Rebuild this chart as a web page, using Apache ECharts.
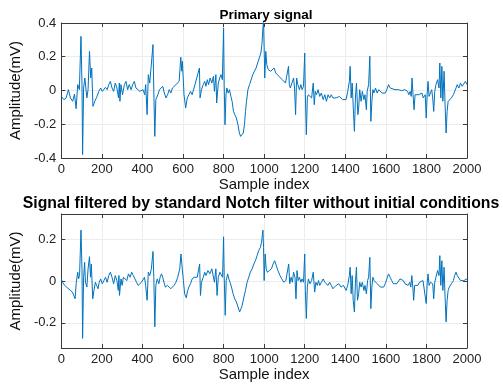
<!DOCTYPE html>
<html>
<head>
<meta charset="utf-8">
<script src="https://cdn.jsdelivr.net/npm/echarts@6/dist/echarts.min.js"></script>
<style>html,body{margin:0;padding:0;background:#fff}#c{width:503px;height:386px}</style>
</head>
<body>
<div id="c"></div>
<script>
// [sample index, amplitude (mV)]
const primarySignal = [
[0,-0.035],[13,-0.054],[24,-0.044],[35,0.005],[45,-0.044],[56,-0.064],[65,-0.021],[73,-0.108],[81,0.035],[89,0.005],
[97,0.321],[102,0.035],[105,-0.38],[110,0.015],[116,0.074],[126,-0.044],[132,0.005],[139,0.232],[145,0.074],[150,0.133],
[156,-0.094],[165,-0.064],[174,-0.041],[185,-0.005],[194,0.015],[202,-0.005],[210,0.005],[218,0.019],[226,0.005],[234,0.035],
[242,0.054],[250,0.015],[258,-0.005],[266,0.044],[274,0.015],[282,-0.044],[286,0.044],[289,-0.064],[294,0.035],[302,-0.025],
[311,0.035],[319,0.054],[327,0.005],[335,0.035],[344,0.005],[352,0.035],[360,0.054],[368,0.015],[376,0.005],[387,-0.005],
[395,-0.015],[403,0.005],[411,-0.025],[416,0.035],[423,-0.143],[429,0.094],[436,0.044],[445,0.054],[452,0.272],[456,-0.005],
[461,-0.272],[466,-0.054],[476,-0.025],[484,0.005],[492,0.015],[500,0.025],[508,-0.015],[516,-0.044],[524,-0.025],[532,0.005],
[540,-0.015],[548,0.015],[556,0.005],[565,0.035],[573,0.025],[581,0.054],[589,0.197],[594,0.114],[597,0.173],[605,-0.025],
[613,-0.104],[621,-0.044],[629,-0.025],[637,-0.005],[645,-0.025],[653,-0.015],[661,0.044],[681,0.133],[684,-0.044],[691,0.005],
[700,0.035],[707,0.054],[713,0.025],[720,0.064],[726,0.035],[734,0.074],[742,0.044],[750,0.084],[755,-0.005],[762,0.094],
[766,-0.074],[774,0.044],[781,0.074],[787,0.094],[794,0.064],[800,0.371],[803,0.035],[807,-0.203],[812,-0.025],[816,0.015],
[823,-0.015],[829,0.005],[836,-0.035],[842,-0.064],[849,-0.124],[855,-0.143],[863,-0.163],[871,-0.203],[878,-0.252],[884,-0.272],
[891,-0.272],[897,-0.252],[903,-0.203],[908,-0.124],[913,-0.064],[920,0.005],[928,0.035],[936,0.064],[944,0.094],[952,0.114],
[960,0.133],[968,0.163],[976,0.193],[984,0.222],[989,0.272],[994,0.371],[997,0.41],[1000,0.252],[1003,0.074],[1008,0.232],
[1013,0.153],[1020,0.124],[1026,0.133],[1032,0.114],[1041,0.124],[1049,0.133],[1057,0.104],[1065,0.094],[1073,0.084],[1081,0.074],
[1089,0.064],[1097,0.054],[1105,0.044],[1113,0.054],[1120,0.143],[1124,0.035],[1129,0.015],[1137,0.005],[1145,0.074],[1150,0.015],
[1155,-0.143],[1160,0.074],[1166,0.035],[1174,0.005],[1181,0.035],[1187,0.005],[1194,0.025],[1200,0.222],[1203,-0.025],[1208,-0.262],
[1213,-0.044],[1218,-0.025],[1226,-0.015],[1234,-0.044],[1242,0.044],[1247,-0.084],[1252,-0.005],[1258,-0.025],[1266,0.005],[1274,-0.035],
[1282,-0.015],[1291,-0.054],[1299,-0.025],[1307,-0.064],[1315,-0.025],[1323,-0.044],[1331,-0.025],[1339,-0.044],[1355,-0.044],[1371,-0.035],
[1387,-0.054],[1404,-0.054],[1412,-0.005],[1420,0.054],[1424,0.143],[1429,-0.044],[1434,0.044],[1441,-0.143],[1445,-0.242],[1450,-0.044],
[1455,0.044],[1462,-0.143],[1466,-0.104],[1471,0.005],[1478,-0.064],[1484,-0.005],[1492,-0.054],[1497,-0.025],[1504,-0.114],[1508,-0.005],
[1515,0.035],[1521,0.203],[1526,-0.183],[1531,-0.064],[1536,0.005],[1541,-0.015],[1549,0.015],[1557,-0.015],[1565,0.005],[1573,-0.005],
[1581,-0.015],[1589,-0.005],[1597,-0.015],[1605,0.005],[1613,0.035],[1621,0.015],[1629,0.015],[1645,0.005],[1662,0.005],[1678,-0.001],
[1694,0.005],[1707,-0.005],[1713,-0.025],[1720,-0.005],[1725,-0.035],[1729,0.074],[1734,-0.025],[1739,-0.114],[1744,-0.025],[1752,-0.035],
[1762,-0.025],[1771,-0.035],[1778,-0.015],[1784,-0.044],[1794,-0.025],[1799,-0.163],[1804,-0.015],[1808,0.054],[1813,-0.035],[1820,-0.025],
[1826,0.005],[1831,-0.044],[1836,-0.124],[1841,-0.005],[1847,0.035],[1855,0.064],[1862,0.015],[1866,0.163],[1871,-0.044],[1876,0.143],
[1881,-0.064],[1887,0.114],[1892,-0.084],[1897,-0.252],[1902,-0.124],[1907,-0.064],[1913,-0.054],[1923,-0.044],[1933,-0.025],[1939,-0.015],
[1946,0.015],[1952,0.035],[1960,0.015],[1968,0.044],[1976,0.025],[1984,0.035],[1992,0.054],[2000,0.035]
];
const filteredSignal = [
[0,0.01],[6,-0.006],[16,-0.021],[26,-0.029],[35,-0.021],[45,-0.045],[55,-0.053],[61,-0.061],[68,-0.085],[74,-0.006],
[81,0.042],[85,0.01],[90,0.026],[97,0.243],[102,0.058],[105,-0.274],[110,0.018],[115,0.089],[119,-0.006],[126,-0.029],
[132,0.058],[139,0.116],[144,0.018],[148,0.081],[155,-0.085],[161,-0.045],[168,-0.006],[174,-0.021],[181,-0.037],[187,-0.006],
[194,0.01],[202,-0.013],[210,0.002],[218,0.018],[226,-0.006],[234,0.026],[242,0.042],[250,0.018],[258,-0.013],[266,0.026],
[274,0.002],[281,-0.045],[284,0.026],[287,-0.069],[294,0.01],[300,-0.021],[306,0.018],[315,0.026],[323,0.002],[331,0.034],
[339,0.018],[347,0.042],[355,0.026],[363,0.01],[371,-0.006],[379,-0.021],[387,-0.013],[395,-0.006],[403,0.002],[410,0.018],
[416,-0.021],[423,-0.092],[429,0.042],[436,0.026],[444,0.058],[452,0.141],[456,0.018],[461,-0.219],[466,-0.021],[473,0.01],
[481,-0.013],[487,0.018],[494,0.034],[500,0.018],[506,-0.006],[513,-0.029],[523,-0.021],[532,-0.029],[540,-0.037],[548,-0.045],
[556,-0.021],[565,-0.006],[574,0.018],[584,0.058],[590,0.129],[595,0.073],[602,0.002],[608,-0.061],[616,-0.08],[623,-0.045],
[629,-0.029],[637,-0.013],[645,0.01],[655,0.018],[661,0.026],[670,0.018],[678,0.018],[682,0.081],[686,-0.069],[691,-0.006],
[700,0.018],[707,0.042],[713,0.026],[723,0.05],[732,0.034],[742,0.058],[750,0.05],[755,-0.006],[762,0.058],[768,-0.069],
[774,0.018],[782,0.042],[789,0.05],[795,0.018],[800,0.211],[803,0.026],[808,-0.164],[813,0.002],[820,0.034],[826,0.01],
[832,-0.006],[839,-0.029],[847,-0.061],[855,-0.085],[863,-0.1],[871,-0.124],[879,-0.148],[886,-0.132],[892,-0.116],[900,-0.077],
[908,-0.045],[916,-0.006],[924,0.018],[932,0.042],[941,0.058],[949,0.081],[957,0.097],[965,0.121],[973,0.145],[981,0.16],
[987,0.184],[994,0.243],[997,0.16],[1000,0.002],[1005,0.129],[1010,0.058],[1016,0.042],[1026,0.05],[1036,0.058],[1044,0.081],
[1052,0.097],[1060,0.073],[1068,0.05],[1078,0.026],[1087,0.01],[1097,-0.006],[1107,0.002],[1116,0.01],[1121,0.081],[1126,-0.013],
[1133,0.018],[1139,-0.006],[1145,0.042],[1152,0.018],[1157,-0.085],[1162,0.05],[1168,0.002],[1174,0.018],[1181,-0.006],[1187,0.01],
[1194,-0.006],[1200,0.129],[1203,-0.045],[1208,-0.179],[1213,-0.029],[1218,0.01],[1226,-0.013],[1234,0.002],[1242,0.042],[1249,-0.053],
[1255,-0.006],[1262,-0.021],[1268,0.002],[1274,-0.021],[1282,-0.006],[1291,0.01],[1299,-0.006],[1307,0.002],[1315,-0.021],[1323,-0.006],
[1331,-0.021],[1339,-0.037],[1355,-0.021],[1368,-0.013],[1379,-0.029],[1391,-0.021],[1404,-0.045],[1412,-0.021],[1420,0.026],[1424,0.066],
[1429,-0.061],[1434,0.026],[1439,-0.092],[1445,-0.148],[1450,-0.006],[1455,0.066],[1460,-0.092],[1466,-0.061],[1471,-0.006],[1478,-0.029],
[1484,-0.006],[1492,-0.045],[1497,-0.021],[1504,-0.061],[1510,0.002],[1515,0.018],[1521,0.113],[1526,-0.132],[1531,-0.029],[1536,0.018],
[1542,0.002],[1549,0.01],[1557,-0.013],[1565,-0.021],[1573,-0.029],[1581,-0.037],[1589,-0.029],[1597,-0.013],[1605,0.01],[1613,0.034],
[1621,0.018],[1629,0.002],[1637,-0.013],[1645,-0.021],[1654,-0.013],[1662,-0.006],[1670,0.01],[1678,0.018],[1686,0.002],[1694,-0.013],
[1702,-0.006],[1710,-0.021],[1718,-0.006],[1723,-0.029],[1728,0.026],[1733,-0.029],[1737,-0.092],[1742,-0.021],[1750,-0.013],[1758,-0.021],
[1766,-0.006],[1775,-0.013],[1783,0.002],[1791,-0.006],[1799,-0.108],[1804,-0.006],[1808,0.034],[1813,-0.021],[1820,-0.006],[1826,0.002],
[1831,-0.013],[1836,-0.085],[1841,-0.006],[1847,0.018],[1855,0.05],[1862,0.026],[1866,0.121],[1871,-0.021],[1876,0.097],[1881,-0.045],
[1887,0.066],[1892,-0.077],[1897,-0.195],[1902,-0.092],[1907,-0.045],[1913,-0.029],[1923,-0.013],[1933,0.002],[1939,0.026],[1946,0.042],
[1952,0.026],[1960,0.018],[1968,0.002],[1976,0.01],[1984,0.002],[1992,-0.006],[2000,0.01]
];
const titles = ['Primary signal', 'Signal filtered by standard Notch filter without initial conditions'];
const xName = 'Sample index';
const yName = 'Amplitude(mV)';
const xRange = [0, 2000], xStep = 200;
const topRange = [-0.4, 0.4], topTicks = [-0.4, -0.2, 0, 0.2, 0.4];
const botRange = [-0.32, 0.32], botTicks = [-0.2, 0, 0.2];

const FONT = 'Liberation Sans';
const AX = '#3a3a3a';
const GRIDC = '#ececec';
function fmt(v){ return String(Math.round(v*10)/10); }

function xAx(gi, bottom){
  return {
    type:'value', gridIndex:gi, min:xRange[0], max:xRange[1], interval:xStep,
    position: bottom ? 'bottom':'top',
    name: bottom ? xName : '', nameLocation:'middle', nameGap:19,
    nameTextStyle:{fontFamily:FONT, fontSize:15, color:'#111'},
    axisLine:{show:true, onZero:false, lineStyle:{color:AX, width:1}},
    axisTick:{show:true, inside:true, length:4, lineStyle:{color:AX}},
    axisLabel:{show:bottom, margin:5, formatter:(v)=>String(v), fontFamily:FONT, fontSize:13, color:'#222'},
    splitLine:{show:bottom, lineStyle:{color:GRIDC, width:1}}
  };
}
function yAx(gi, left, range, ticks){
  return {
    type:'value', gridIndex:gi, min:range[0], max:range[1],
    position: left ? 'left':'right',
    name: left ? yName : '', nameLocation:'middle', nameGap:27,
    nameTextStyle:{fontFamily:FONT, fontSize:15, color:'#111'},
    axisLine:{show:true, onZero:false, lineStyle:{color:AX, width:1}},
    axisTick:{show:true, inside:true, length:4, customValues:ticks, lineStyle:{color:AX}},
    axisLabel:{show:left, margin:5, customValues:ticks, formatter:fmt, fontFamily:FONT, fontSize:13, color:'#222'},
    splitLine:{show:false}
  };
}
function gridLines(xi, yi, ticks){
  return {type:'line', xAxisIndex:xi, yAxisIndex:yi, data:[], z:0, silent:true,
    markLine:{silent:true, z:0, symbol:'none', label:{show:false}, animation:false,
      lineStyle:{color:GRIDC, type:'solid', width:1}, data:ticks.map(v=>({yAxis:v}))}};
}

const chart = echarts.init(document.getElementById('c'), null, {renderer:'canvas'});
chart.setOption({
  animation:false,
  backgroundColor:'#fff',
  title:[
    {text:titles[0], left:261, top:3, textAlign:'center', textStyle:{fontFamily:FONT, fontSize:13.5, fontWeight:'bold', color:'#000'}},
    {text:titles[1], left:256, top:191, textAlign:'center', textStyle:{fontFamily:FONT, fontSize:15.8, fontWeight:'bold', color:'#000'}}
  ],
  grid:[
    {left:53, top:23, width:414, height:135},
    {left:53, top:214, width:414, height:134}
  ],
  xAxis:[xAx(0,true), xAx(0,false), xAx(1,true), xAx(1,false)],
  yAxis:[yAx(0,true,topRange,topTicks), yAx(0,false,topRange,topTicks), yAx(1,true,botRange,botTicks), yAx(1,false,botRange,botTicks)],
  series:[
    gridLines(0, 0, topTicks.slice(1,-1)),
    gridLines(2, 2, botTicks),
    {type:'line', xAxisIndex:0, yAxisIndex:0, z:10, data:primarySignal, showSymbol:false, lineStyle:{color:'#0072BD', width:1}, silent:true},
    {type:'line', xAxisIndex:2, yAxisIndex:2, z:10, data:filteredSignal, showSymbol:false, lineStyle:{color:'#0072BD', width:1}, silent:true}
  ]
});
</script>
</body>
</html>
